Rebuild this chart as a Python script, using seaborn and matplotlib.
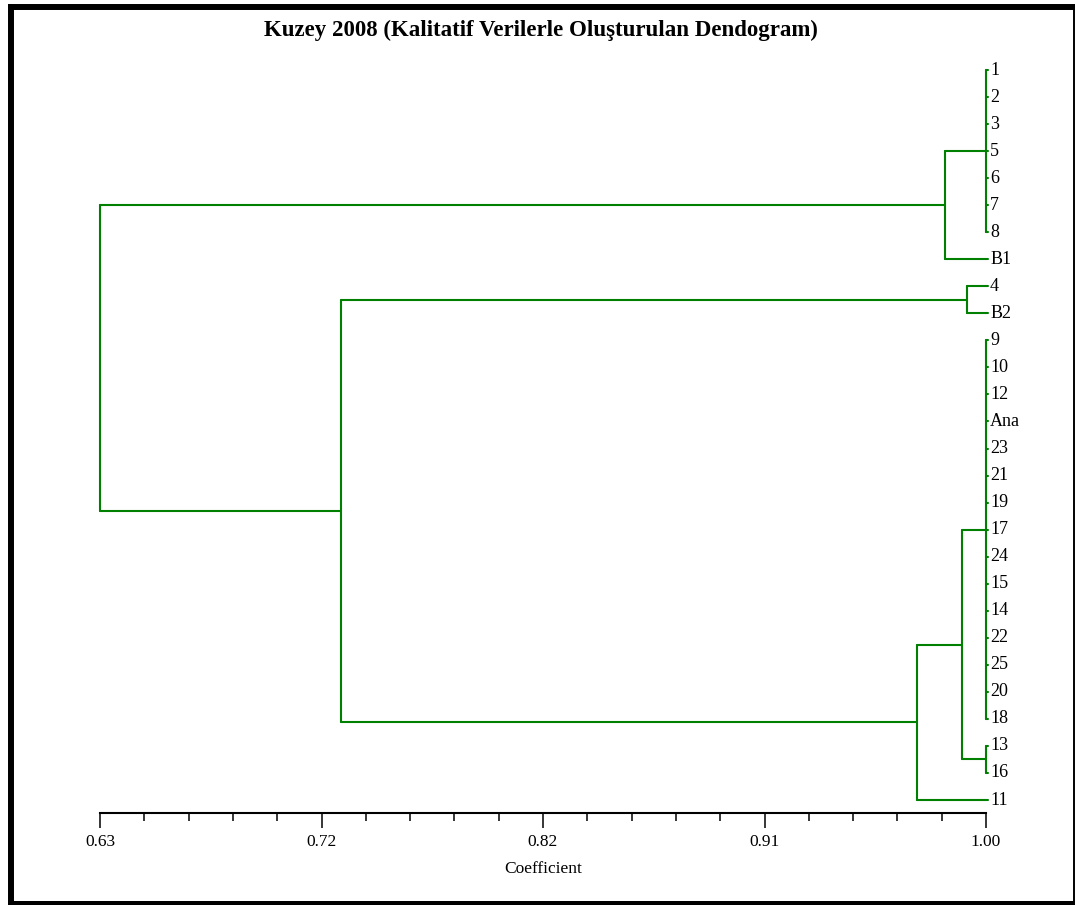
import numpy as np
import pandas as pd
import matplotlib
matplotlib.use('Agg')
import matplotlib.pyplot as plt
from matplotlib.lines import Line2D
from matplotlib.ticker import FixedLocator
import seaborn as sns

# leaves in the order they are drawn, top to bottom
leaf_labels = ['1', '2', '3', '5', '6', '7', '8', 'B1', '4', 'B2',
               '9', '10', '12', 'Ana', '23', '21', '19', '17', '24', '15',
               '14', '22', '25', '20', '18', '13', '16', '11']

# merges: node name, children, similarity coefficient
merge_names = ['g1', 'g2', 'g3', 'g4', 'g5', 'g6', 'g7', 'g8', 'root']
merge_children = [
    ['1', '2', '3', '5', '6', '7', '8'],
    ['g1', 'B1'],
    ['4', 'B2'],
    ['9', '10', '12', 'Ana', '23', '21', '19', '17', '24', '15',
     '14', '22', '25', '20', '18'],
    ['13', '16'],
    ['g4', 'g5'],
    ['g6', '11'],
    ['g3', 'g7'],
    ['g2', 'g8'],
]
merge_coef = [1.00, 0.983, 0.992, 1.00, 1.00, 0.990, 0.971, 0.7305, 0.63]

tick_values = [0.63, 0.7225, 0.815, 0.9075, 1.00]
tick_labels = ['0.63', '0.72', '0.82', '0.91', '1.00']

title = 'Kuzey 2008 (Kalitatif Verilerle Oluşturulan Dendogram)'

# build segments of the tree
pos = {lab: (1.00, i) for i, lab in enumerate(leaf_labels)}
rows = []
seg = 0
def add_seg(x0, y0, x1, y1):
    global seg
    rows.append({'x': x0, 'y': y0, 'seg': seg})
    rows.append({'x': x1, 'y': y1, 'seg': seg})
    seg += 1

for name, children, c in zip(merge_names, merge_children, merge_coef):
    ys = [pos[ch][1] for ch in children]
    add_seg(c, min(ys), c, max(ys))
    for ch in children:
        cx, cy = pos[ch]
        if cx != c:
            add_seg(c, cy, cx, cy)
    pos[name] = (c, (min(ys) + max(ys)) / 2)

# small leaf ticks
for i, lab in enumerate(leaf_labels):
    add_seg(1.00, i, 1.0010, i)

df = pd.DataFrame(rows)

sns.set_theme(style='white')
plt.rcParams['font.family'] = ['Liberation Serif', 'DejaVu Serif']
plt.rcParams['text.color'] = 'black'
plt.rcParams['axes.labelcolor'] = 'black'
plt.rcParams['xtick.color'] = 'black'

fig = plt.figure(figsize=(10.75, 9.05), dpi=100)
ax = fig.add_axes([100 / 1075, (905 - 813) / 905, 886 / 1075, (813 - 50) / 905])

sns.lineplot(data=df, x='x', y='y', units='seg', estimator=None, sort=False,
             color='#008000', linewidth=1.5, ax=ax, legend=False)
for line in ax.lines:
    line.set_clip_on(False)

for i, lab in enumerate(leaf_labels):
    ax.text(1.0017, i, lab, ha='left', va='center', fontsize=13,
            color='black', clip_on=False)

ax.set_xlim(0.63, 1.00)
ax.set_ylim(27.48, -0.74)
ax.set_yticks([])
ax.set_ylabel('')
for s in ['left', 'right', 'top']:
    ax.spines[s].set_visible(False)
ax.spines['bottom'].set_linewidth(1.5)
ax.spines['bottom'].set_color('black')

ax.set_xticks(tick_values, tick_labels)
ax.xaxis.set_minor_locator(FixedLocator(np.linspace(0.63, 1.00, 21)))
ax.tick_params(axis='x', which='major', direction='out', length=10.8,
               width=1.1, color='black', labelcolor='black', labelsize=12.5,
               pad=4, bottom=True)
ax.tick_params(axis='x', which='minor', direction='out', length=5.8,
               width=1.1, color='black', bottom=True)
ax.set_xlabel('Coefficient', fontsize=12.5, labelpad=8, color='black')

fig.text(541 / 1075, 1 - 30 / 905, title, ha='center', va='center',
         fontsize=16.5, fontweight='bold', color='black')

# frame around the picture
frame = dict(transform=fig.transFigure, color='black', solid_capstyle='butt')
fig.add_artist(Line2D([11 / 1075, 11 / 1075], [1 - 4 / 905, 0], lw=4.3, **frame))
fig.add_artist(Line2D([8 / 1075, 1], [1 - 7 / 905, 1 - 7 / 905], lw=4.3, **frame))
fig.add_artist(Line2D([1073.5 / 1075, 1073.5 / 1075], [1 - 4 / 905, 0], lw=1.4, **frame))
fig.add_artist(Line2D([8 / 1075, 1], [2.5 / 905, 2.5 / 905], lw=3.6, **frame))

fig.savefig('out.png', dpi=100)
